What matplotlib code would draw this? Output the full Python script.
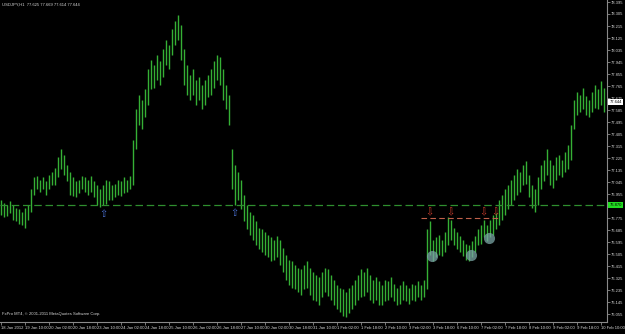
#!/usr/bin/env python3
"""USDJPY bar chart in the look of a MetaTrader 4 window."""

import matplotlib
matplotlib.use("Agg")
import matplotlib.pyplot as plt
import matplotlib.transforms as mtransforms

# --- data (one bar = 2 hours) -----------------------------------------------
highs = [
    76.91, 76.89, 76.87, 76.90, 76.87, 76.85, 76.84, 76.82, 76.85, 76.87,
    76.99, 77.08, 77.09, 77.06, 77.08, 77.05, 77.10, 77.12, 77.15, 77.23,
    77.29, 77.25, 77.17, 77.12, 77.08, 77.05, 77.06, 77.09, 77.08, 77.06,
    77.09, 77.05, 77.02, 76.99, 77.02, 77.06, 77.05, 77.02, 77.03, 77.06,
    77.05, 77.08, 77.06, 77.09, 77.36, 77.59, 77.70, 77.66, 77.74, 77.89,
    77.96, 77.92, 78.00, 77.95, 78.04, 78.11, 78.07, 78.19, 78.25, 78.30,
    78.22, 78.04, 77.92, 77.85, 77.89, 77.81, 77.83, 77.77, 77.81, 77.85,
    77.89, 77.95, 78.00, 77.98, 77.89, 77.77, 77.70, 77.29, 77.17, 77.12,
    77.06, 76.95, 76.87, 76.82, 76.80, 76.75, 76.70, 76.69, 76.67, 76.65,
    76.63, 76.61, 76.64, 76.61, 76.55, 76.50, 76.46, 76.45, 76.42, 76.40,
    76.39, 76.42, 76.45, 76.40, 76.37, 76.35, 76.33, 76.37, 76.40, 76.39,
    76.35, 76.31, 76.27, 76.25, 76.24, 76.22, 76.25, 76.27, 76.31, 76.35,
    76.39, 76.37, 76.40, 76.35, 76.31, 76.33, 76.30, 76.27, 76.31, 76.30,
    76.33, 76.28, 76.25, 76.27, 76.30, 76.27, 76.25, 76.28, 76.27, 76.30,
    76.27, 76.31, 76.69, 76.75, 76.61, 76.63, 76.65, 76.61, 76.67, 76.78,
    76.76, 76.70, 76.67, 76.64, 76.61, 76.58, 76.57, 76.60, 76.64, 76.69,
    76.72, 76.76, 76.72, 76.76, 76.80, 76.81, 76.91, 76.95, 76.99, 77.02,
    77.06, 77.10, 77.14, 77.12, 77.17, 77.20, 77.10, 77.02, 76.99, 77.08,
    77.17, 77.21, 77.29, 77.21, 77.17, 77.23, 77.25, 77.21, 77.27, 77.32,
    77.47, 77.66, 77.72, 77.70, 77.75, 77.69, 77.66, 77.72, 77.77, 77.74,
    77.80, 77.75,
]
lows = [
    76.80, 76.78, 76.79, 76.81, 76.76, 76.75, 76.73, 76.72, 76.70, 76.76,
    76.82, 76.95, 76.99, 76.97, 76.99, 76.95, 76.99, 77.02, 77.02, 77.08,
    77.14, 77.10, 77.05, 76.95, 76.94, 76.93, 76.96, 76.99, 76.97, 76.95,
    76.97, 76.93, 76.87, 76.86, 76.87, 76.88, 76.91, 76.91, 76.93, 76.95,
    76.94, 76.96, 76.97, 76.99, 77.02, 77.29, 77.47, 77.44, 77.53, 77.62,
    77.74, 77.75, 77.81, 77.77, 77.83, 77.92, 77.89, 78.00, 78.07, 78.11,
    77.96, 77.77, 77.70, 77.66, 77.70, 77.62, 77.66, 77.59, 77.62, 77.68,
    77.70, 77.75, 77.81, 77.77, 77.66, 77.59, 77.47, 76.99, 76.87, 76.91,
    76.84, 76.75, 76.69, 76.65, 76.61, 76.57, 76.54, 76.52, 76.50, 76.48,
    76.45, 76.46, 76.48, 76.42, 76.37, 76.31, 76.27, 76.25, 76.24, 76.22,
    76.20, 76.24, 76.25, 76.20, 76.16, 76.15, 76.12, 76.18, 76.22, 76.19,
    76.16, 76.12, 76.09, 76.07, 76.04, 76.03, 76.06, 76.09, 76.12, 76.16,
    76.18, 76.19, 76.22, 76.16, 76.14, 76.16, 76.12, 76.12, 76.15, 76.16,
    76.18, 76.15, 76.12, 76.13, 76.16, 76.15, 76.13, 76.16, 76.15, 76.18,
    76.16, 76.18, 76.24, 76.50, 76.45, 76.48, 76.50, 76.49, 76.52, 76.57,
    76.61, 76.57, 76.54, 76.52, 76.49, 76.46, 76.45, 76.48, 76.52, 76.57,
    76.58, 76.63, 76.60, 76.63, 76.65, 76.69, 76.72, 76.76, 76.80, 76.84,
    76.87, 76.91, 76.95, 76.97, 77.02, 77.03, 76.93, 76.85, 76.82, 76.87,
    76.99, 77.05, 77.10, 77.02, 77.00, 77.06, 77.10, 77.08, 77.12, 77.14,
    77.21, 77.44, 77.55, 77.57, 77.59, 77.55, 77.53, 77.57, 77.60, 77.59,
    77.62, 77.57,
]

time_labels = [
    "18 Jan 2012", "19 Jan 10:00", "20 Jan 02:00", "20 Jan 18:00",
    "23 Jan 10:00", "24 Jan 02:00", "24 Jan 18:00", "25 Jan 10:00",
    "26 Jan 02:00", "26 Jan 18:00", "27 Jan 10:00", "30 Jan 02:00",
    "30 Jan 18:00", "31 Jan 10:00", "1 Feb 02:00", "1 Feb 18:00",
    "2 Feb 10:00", "3 Feb 02:00", "3 Feb 18:00", "6 Feb 10:00",
    "7 Feb 02:00", "7 Feb 18:00", "8 Feb 10:00", "9 Feb 02:00",
    "9 Feb 18:00", "10 Feb 10:00",
]
bars_per_label = 8

price_ticks = [78.395, 78.305, 78.215, 78.125, 78.035, 77.945, 77.855,
               77.765, 77.675, 77.585, 77.495, 77.405, 77.315, 77.225,
               77.135, 77.045, 76.955, 76.865, 76.775, 76.685, 76.595,
               76.505, 76.415, 76.325, 76.235, 76.145, 76.055]

last_price = 77.644
support_level = 76.870          # green dashed line
resistance_level = 76.775       # red dashed line
resistance_span = (140, 165.5)  # bars covered by the red line

buy_idx = [34, 77.5]
buy_price = [76.805, 76.81]
sell_idx = [142.5, 149.5, 160.5, 164.5]
sell_price = [76.82, 76.82, 76.82, 76.82]
circle_idx = [143.5, 156.5, 162.5]
circle_price = [76.49, 76.497, 76.625]

header = "USDJPY,H1  77.625 77.669 77.614 77.644"
footer = "FxPro MT4, \u00a9 2001-2011 MetaQuotes Software Corp."

# --- drawing -----------------------------------------------------------------
BAR_GREEN = "#35b035"
AXIS_GREY = "#8a8a8a"
TXT = "#d8d8d8"
FONT = ["Liberation Sans Narrow", "Liberation Sans", "DejaVu Sans"]
FS = 3.0

plt.rcParams["font.family"] = FONT

fig = plt.figure(figsize=(6.25, 3.34), dpi=100, facecolor="black")
ax = fig.add_axes([0.0, 12 / 334, 607 / 625, 322 / 334], facecolor="black")

x = list(range(len(highs)))
ax.vlines(x, lows, highs, color=BAR_GREEN, linewidth=1.0)

ax.set_xlim(-0.5, 607 / 3 - 0.5)
ax.set_ylim(75.995, 78.41)

# levels
ax.axhline(support_level, color="#2f8f2f", linewidth=0.9, linestyle=(0, (6, 3)))
ax.hlines(resistance_level, *resistance_span, color="#c0604a",
          linewidth=0.8, linestyle=(0, (5, 3)))

# signal arrows and circles (drawn above the bars)
for xi, yi in zip(buy_idx, buy_price):
    ax.text(xi, yi, "\u21e7", color="#4a6fd0", fontsize=7, zorder=5,
            ha="center", va="center", family="DejaVu Sans")
for xi, yi in zip(sell_idx, sell_price):
    ax.text(xi, yi, "\u21e9", color="#c83c2c", fontsize=7, zorder=5,
            ha="center", va="center", family="DejaVu Sans")
ax.plot(circle_idx, circle_price, "o", markersize=8, color="#7aa6a6",
        alpha=0.75, markeredgewidth=0, zorder=4)

# axes styling
for side in ["top", "left"]:
    ax.spines[side].set_visible(False)
for side in ["right", "bottom"]:
    ax.spines[side].set_color(AXIS_GREY)
    ax.spines[side].set_linewidth(0.8)

# the green level box sits on top of the scale label at that level
ax.yaxis.tick_right()
ax.set_yticks(price_ticks)
ax.set_yticklabels(["" if abs(p - support_level) < 0.03 else f"{p:.3f}"
                    for p in price_ticks])
ax.tick_params(axis="y", colors=AXIS_GREY, labelcolor=TXT, labelsize=FS,
               length=2, width=0.6, pad=1.0)

xt = [i * bars_per_label for i in range(len(time_labels))]
ax.set_xticks(xt)
ax.set_xticklabels(time_labels, ha="left")
ax.tick_params(axis="x", colors=AXIS_GREY, labelcolor=TXT, labelsize=FS,
               length=2, width=0.6, pad=1.0)

# price boxes on the right scale
trans = mtransforms.blended_transform_factory(ax.transAxes, ax.transData)
ax.text(1.004, last_price, f"{last_price:.3f}", transform=trans, fontsize=FS,
        color="black", va="center", ha="left",
        bbox=dict(facecolor="white", edgecolor="none", pad=0.8))
ax.text(1.004, support_level, f"{support_level:.3f}", transform=trans,
        fontsize=FS, color="black", va="center", ha="left",
        bbox=dict(facecolor="#22dd22", edgecolor="none", pad=0.8))

fig.text(0.004, 1 - 5 / 334, header, color=TXT, fontsize=FS, va="center")
ax.text(0.004, 0.02, footer, transform=ax.transAxes, color=TXT,
        fontsize=FS, va="bottom")

fig.savefig("out.png", dpi=100, facecolor="black")
